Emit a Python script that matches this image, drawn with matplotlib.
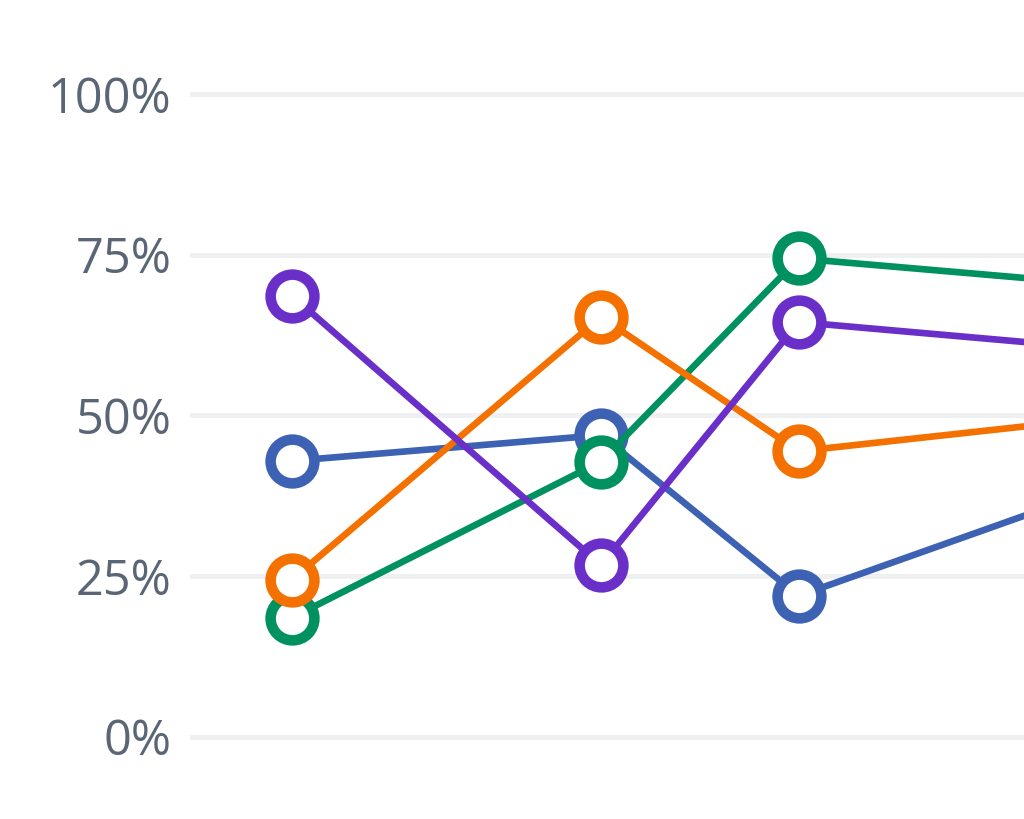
import matplotlib
matplotlib.use("Agg")
import matplotlib.pyplot as plt

# data
x_vals = [0, 100, 164, 270]
series_names = ["Blue", "Green", "Orange", "Purple"]
blue = [42.9, 46.9, 21.9, 40.0]
green = [18.5, 42.8, 74.4, 70.0]
orange = [24.4, 65.3, 44.4, 50.0]
purple = [68.6, 26.7, 64.5, 60.0]
y_ticks = [0, 25, 50, 75, 100]
y_tick_labels = ["0%", "25%", "50%", "75%", "100%"]

colors = ["#3d62b3", "#009160", "#f47100", "#6a2fc8"]
data = [blue, green, orange, purple]

plt.rcParams['font.family'] = ['Open Sans', 'DejaVu Sans']

fig = plt.figure(figsize=(10.24, 8.19), dpi=100)
ax = fig.add_axes([190/1024, 0.02228, 1 - 190/1024, 0.9414])
ax.set_xlim(-33.0, 236.9)
ax.set_ylim(-10, 110)

for vals, c in zip(data, colors):
    ax.plot(x_vals, vals, color=c, lw=4.8, marker='o', ms=31.5, mew=7.6,
            mfc='white', mec=c, solid_capstyle='round')

ax.set_yticks(y_ticks)
ax.set_yticklabels(y_tick_labels)
ax.set_xticks([])
ax.grid(axis='y', color='#eff0f2', lw=3.6)
ax.set_axisbelow(True)
for s in ax.spines.values():
    s.set_visible(False)
ax.tick_params(axis='y', length=0, pad=13.5, labelsize=35, labelcolor='#5a6675')

fig.savefig("out.png", dpi=100)
